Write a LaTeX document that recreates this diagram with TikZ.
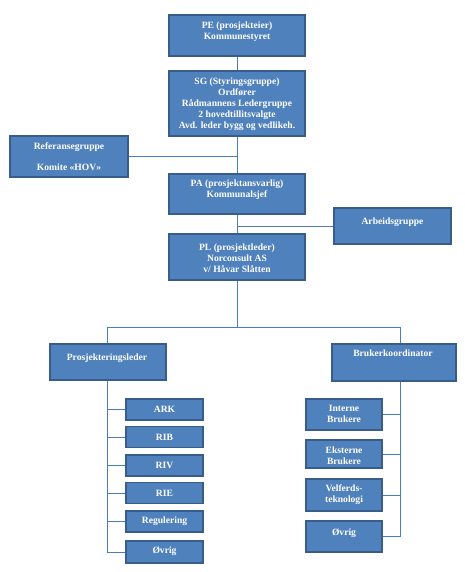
\documentclass[tikz,border=0pt]{standalone}
\usepackage{fontspec}
\setmainfont{Liberation Serif}
\definecolor{boxfill}{HTML}{4F81BD}
\definecolor{boxline}{HTML}{385D8A}
\definecolor{conn}{HTML}{4A7EBB}
\begin{document}
\begin{tikzpicture}[x=1pt,y=-1pt,
  box/.style={draw=boxline,line width=1.6pt,fill=boxfill,inner sep=0pt,rectangle},
  lbl/.style={text=white,font=\bfseries\fontsize{9.6}{11}\selectfont,align=center,inner sep=0pt},
  link/.style={draw=conn,line width=0.9pt}]
\useasboundingbox[fill=white] (0,0) rectangle (464,572);
% boxes
\node[box,minimum width=136pt,minimum height=41pt] (pe) at (237,35.5) {};
\node[box,minimum width=136pt,minimum height=65pt] (sg) at (237,103.5) {};
\node[box,minimum width=118pt,minimum height=41pt] (ref) at (69,156.5) {};
\node[box,minimum width=136pt,minimum height=40pt] (pa) at (237,194) {};
\node[box,minimum width=117pt,minimum height=36pt] (arb) at (392.5,226) {};
\node[box,minimum width=136pt,minimum height=46pt] (pl) at (237,257) {};
\node[box,minimum width=116pt,minimum height=36pt] (prosj) at (108,362) {};
\node[box,minimum width=124pt,minimum height=37pt] (bruker) at (394,362.5) {};
\node[box,minimum width=77pt,minimum height=21pt] (ark) at (164.5,409.5) {};
\node[box,minimum width=77pt,minimum height=21pt] (rib) at (164.5,437) {};
\node[box,minimum width=77pt,minimum height=21pt] (riv) at (164.5,465.5) {};
\node[box,minimum width=77pt,minimum height=21pt] (rie) at (164.5,493) {};
\node[box,minimum width=77pt,minimum height=21pt] (reg) at (164.5,521.5) {};
\node[box,minimum width=77pt,minimum height=22pt] (ovrl) at (164.5,552) {};
\node[box,minimum width=76pt,minimum height=31pt] (int) at (344,414.5) {};
\node[box,minimum width=76pt,minimum height=28pt] (eks) at (344,454) {};
\node[box,minimum width=76pt,minimum height=32pt] (vel) at (344,495) {};
\node[box,minimum width=76pt,minimum height=31pt] (ovrr) at (344,536.5) {};
% texts
\node[lbl] (tpe) at (237,31.5) {PE (prosjekteier)\\Kommunestyret};
\node[lbl] (tsg) at (237,104) {SG (Styringsgruppe)\\Ordfører\\Rådmannens Ledergruppe\\2 hovedtillitsvalgte\\Avd. leder bygg og vedlikeh.};
\node[lbl] (tref) at (69,156.5) {Referansegruppe\\[10pt]Komite «HOV»};
\node[lbl] (tpa) at (237,189.5) {PA (prosjektansvarlig)\\Kommunalsjef};
\node[lbl] (tarb) at (392.5,222) {Arbeidsgruppe};
\node[lbl] (tpl) at (237,258) {PL (prosjektleder)\\Norconsult AS\\v/ Håvar Slåtten};
\node[lbl] (tprosj) at (107,358) {Prosjekteringsleder};
\node[lbl] (tbruker) at (393,353) {Brukerkoordinator};
\node[lbl] (tark) at (164.5,409.5) {ARK};
\node[lbl] (trib) at (164.5,437) {RIB};
\node[lbl] (triv) at (164.5,465.5) {RIV};
\node[lbl] (trie) at (164.5,493) {RIE};
\node[lbl] (treg) at (164.5,521.5) {Regulering};
\node[lbl] (tovrl) at (164.5,551) {Øvrig};
\node[lbl] (tint) at (344,414) {Interne\\Brukere};
\node[lbl] (teks) at (344,455.5) {Eksterne\\Brukere};
\node[lbl] (tvel) at (344,494.5) {Velferds-\\teknologi};
\node[lbl] (tovrr) at (344,533) {Øvrig};
% junction coordinates
\coordinate (busL) at (107,327);
\coordinate (busR) at (400,327);
\coordinate (rsp) at (400,382);
% connectors
\draw[link] (pe.south) -- (sg.north);
\draw[link] (sg.south) -- (pa.north);
\draw[link] (ref.east) -- (ref.east -| sg.south);
\draw[link] (pa.south) -- (pl.north);
\draw[link] (arb.west) -- (arb.west -| pa.south);
\draw[link] (pl.south) -- (pl.south |- busL);
\draw[link] (prosj.north -| busL) -- (busL) -- (busR) -- (busR |- bruker.north);
\draw[link] (prosj.south -| busL) |- (ark.west);
\draw[link] (prosj.south -| busL) |- (rib.west);
\draw[link] (prosj.south -| busL) |- (riv.west);
\draw[link] (prosj.south -| busL) |- (rie.west);
\draw[link] (prosj.south -| busL) |- (reg.west);
\draw[link] (prosj.south -| busL) |- (ovrl.west);
\draw[link] (rsp) |- (int.east);
\draw[link] (rsp) |- (eks.east);
\draw[link] (rsp) |- (vel.east);
\draw[link] (rsp) |- (ovrr.east);
\end{tikzpicture}
\end{document}
